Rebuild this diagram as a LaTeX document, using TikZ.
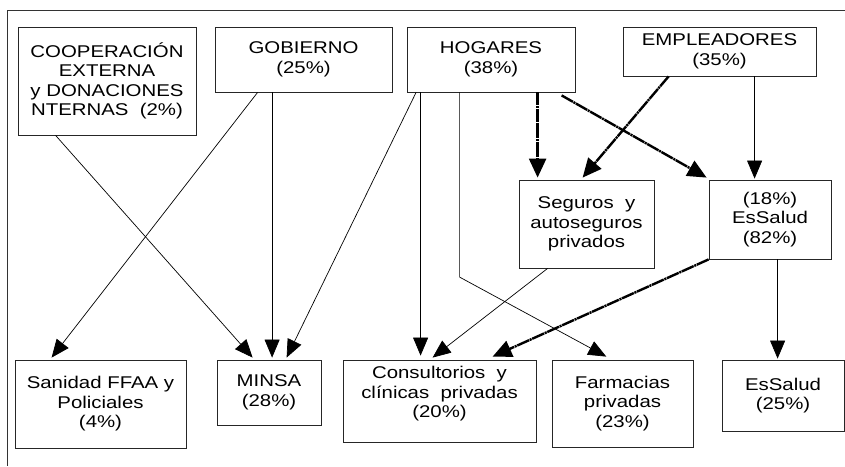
\documentclass[tikz,border=0pt]{standalone}
\usepackage{fontspec}
\setmainfont[FakeStretch=1.2]{Liberation Sans}
\usetikzlibrary{arrows.meta}
\tikzset{
  box/.style={draw=black!85, line width=0.8pt, align=center, inner sep=0pt,
    font=\fontsize{17}{19.5}\selectfont},
  thin/.style={line width=0.7pt, -{Triangle[length=18pt,width=15pt]}},
  dashdot/.style={line width=2.4pt, dash pattern=on 13pt off 0.7pt on 2pt off 0.7pt,
    -{Triangle[length=19pt,width=17pt]}},
  frame/.style={line width=0.9pt, draw=black!80}
}
\begin{document}
\begin{tikzpicture}[x=1pt,y=-1pt]
\useasboundingbox (0,0) rectangle (845,466);
\draw[frame] (845,10) -- (7,10) -- (7,466);

% top row
\node[box, minimum width=178pt, minimum height=108pt] (coop) at (107,81)
  {COOPERACIÓN\\EXTERNA\\y DONACIONES\\NTERNAS\ \ (2\%)};
\node[box, minimum width=177pt, minimum height=65pt] (gob) at (303.5,59.5)
  {GOBIERNO\\(25\%)};
\node[box, minimum width=168pt, minimum height=65pt] (hog) at (491,59.5)
  {HOGARES\\(38\%)};
\node[box, minimum width=193pt, minimum height=49pt] (emp) at (719.5,51.5)
  {EMPLEADORES\\(35\%)};

% middle row
\node[box, minimum width=135pt, minimum height=88pt] (seg) at (586.5,224)
  {Seguros \ y\\autoseguros\\privados};
\node[box, minimum width=122pt, minimum height=79pt] (ess) at (770,219.5)
  {(18\%)\\EsSalud\\(82\%)};

% bottom row
\node[box, minimum width=171pt, minimum height=88pt] (san) at (100.5,404)
  {Sanidad FFAA y\\Policiales\\(4\%)};
\node[box, minimum width=104pt, minimum height=65pt] (minsa) at (269,392.5)
  {MINSA\\(28\%)};
\node[box, minimum width=193pt, minimum height=82pt, text depth=18pt] (cons) at (439.5,401)
  {Consultorios \ y\\clínicas \ privadas\\(20\%)};
\node[box, minimum width=141pt, minimum height=87pt] (farm) at (622.5,403.5)
  {Farmacias\\privadas\\(23\%)};
\node[box, minimum width=122pt, minimum height=71pt] (essb) at (783,395.5)
  {EsSalud\\(25\%)};

% thin connectors
\draw[thin] ([xshift=38pt]coop.south west) -- ([xshift=36pt,yshift=2pt]minsa.north west);
\draw[thin] ([xshift=43pt]gob.south west) -- ([xshift=37pt,yshift=2pt]san.north west);
\draw[thin] ([xshift=57.5pt]gob.south west) -- ([xshift=57.5pt,yshift=2pt]gob.south west |- minsa.north);
\draw[thin] ([xshift=9.5pt]hog.south west) -- ([xshift=70pt,yshift=2pt]minsa.north west);
\draw[thin] ([xshift=14pt]hog.south west) -- ([xshift=14pt,yshift=4pt]hog.south west |- cons.north);
\draw[thin] ([xshift=53pt]hog.south west) -- ++(0,184.7) -- ([xshift=54.7pt,yshift=3pt]farm.north west);
\draw[thin] ([xshift=29pt]seg.south west) -- ([xshift=90pt,yshift=2pt]cons.north west);
\draw[thin] ([xshift=132pt]emp.south west) -- ([xshift=132pt,yshift=1pt]emp.south west |- ess.north);
\draw[thin] ([xshift=69pt]ess.south west) -- ([xshift=69pt,yshift=1pt]ess.south west |- essb.north);

% dash-dot connectors
\draw[dashdot] ([xshift=131pt]hog.south west) -- ([xshift=131pt,yshift=2pt]hog.south west |- seg.north);
\draw[dashdot] ([xshift=155pt,yshift=-3pt]hog.south west) -- ([xshift=-2pt,yshift=2pt]ess.north west);
\draw[dashdot] ([xshift=46pt]emp.south west) -- ([xshift=64pt,yshift=2pt]seg.north west);
\draw[dashdot] (ess.south west) -- ([xshift=150pt,yshift=3pt]cons.north west);
\end{tikzpicture}
\end{document}
